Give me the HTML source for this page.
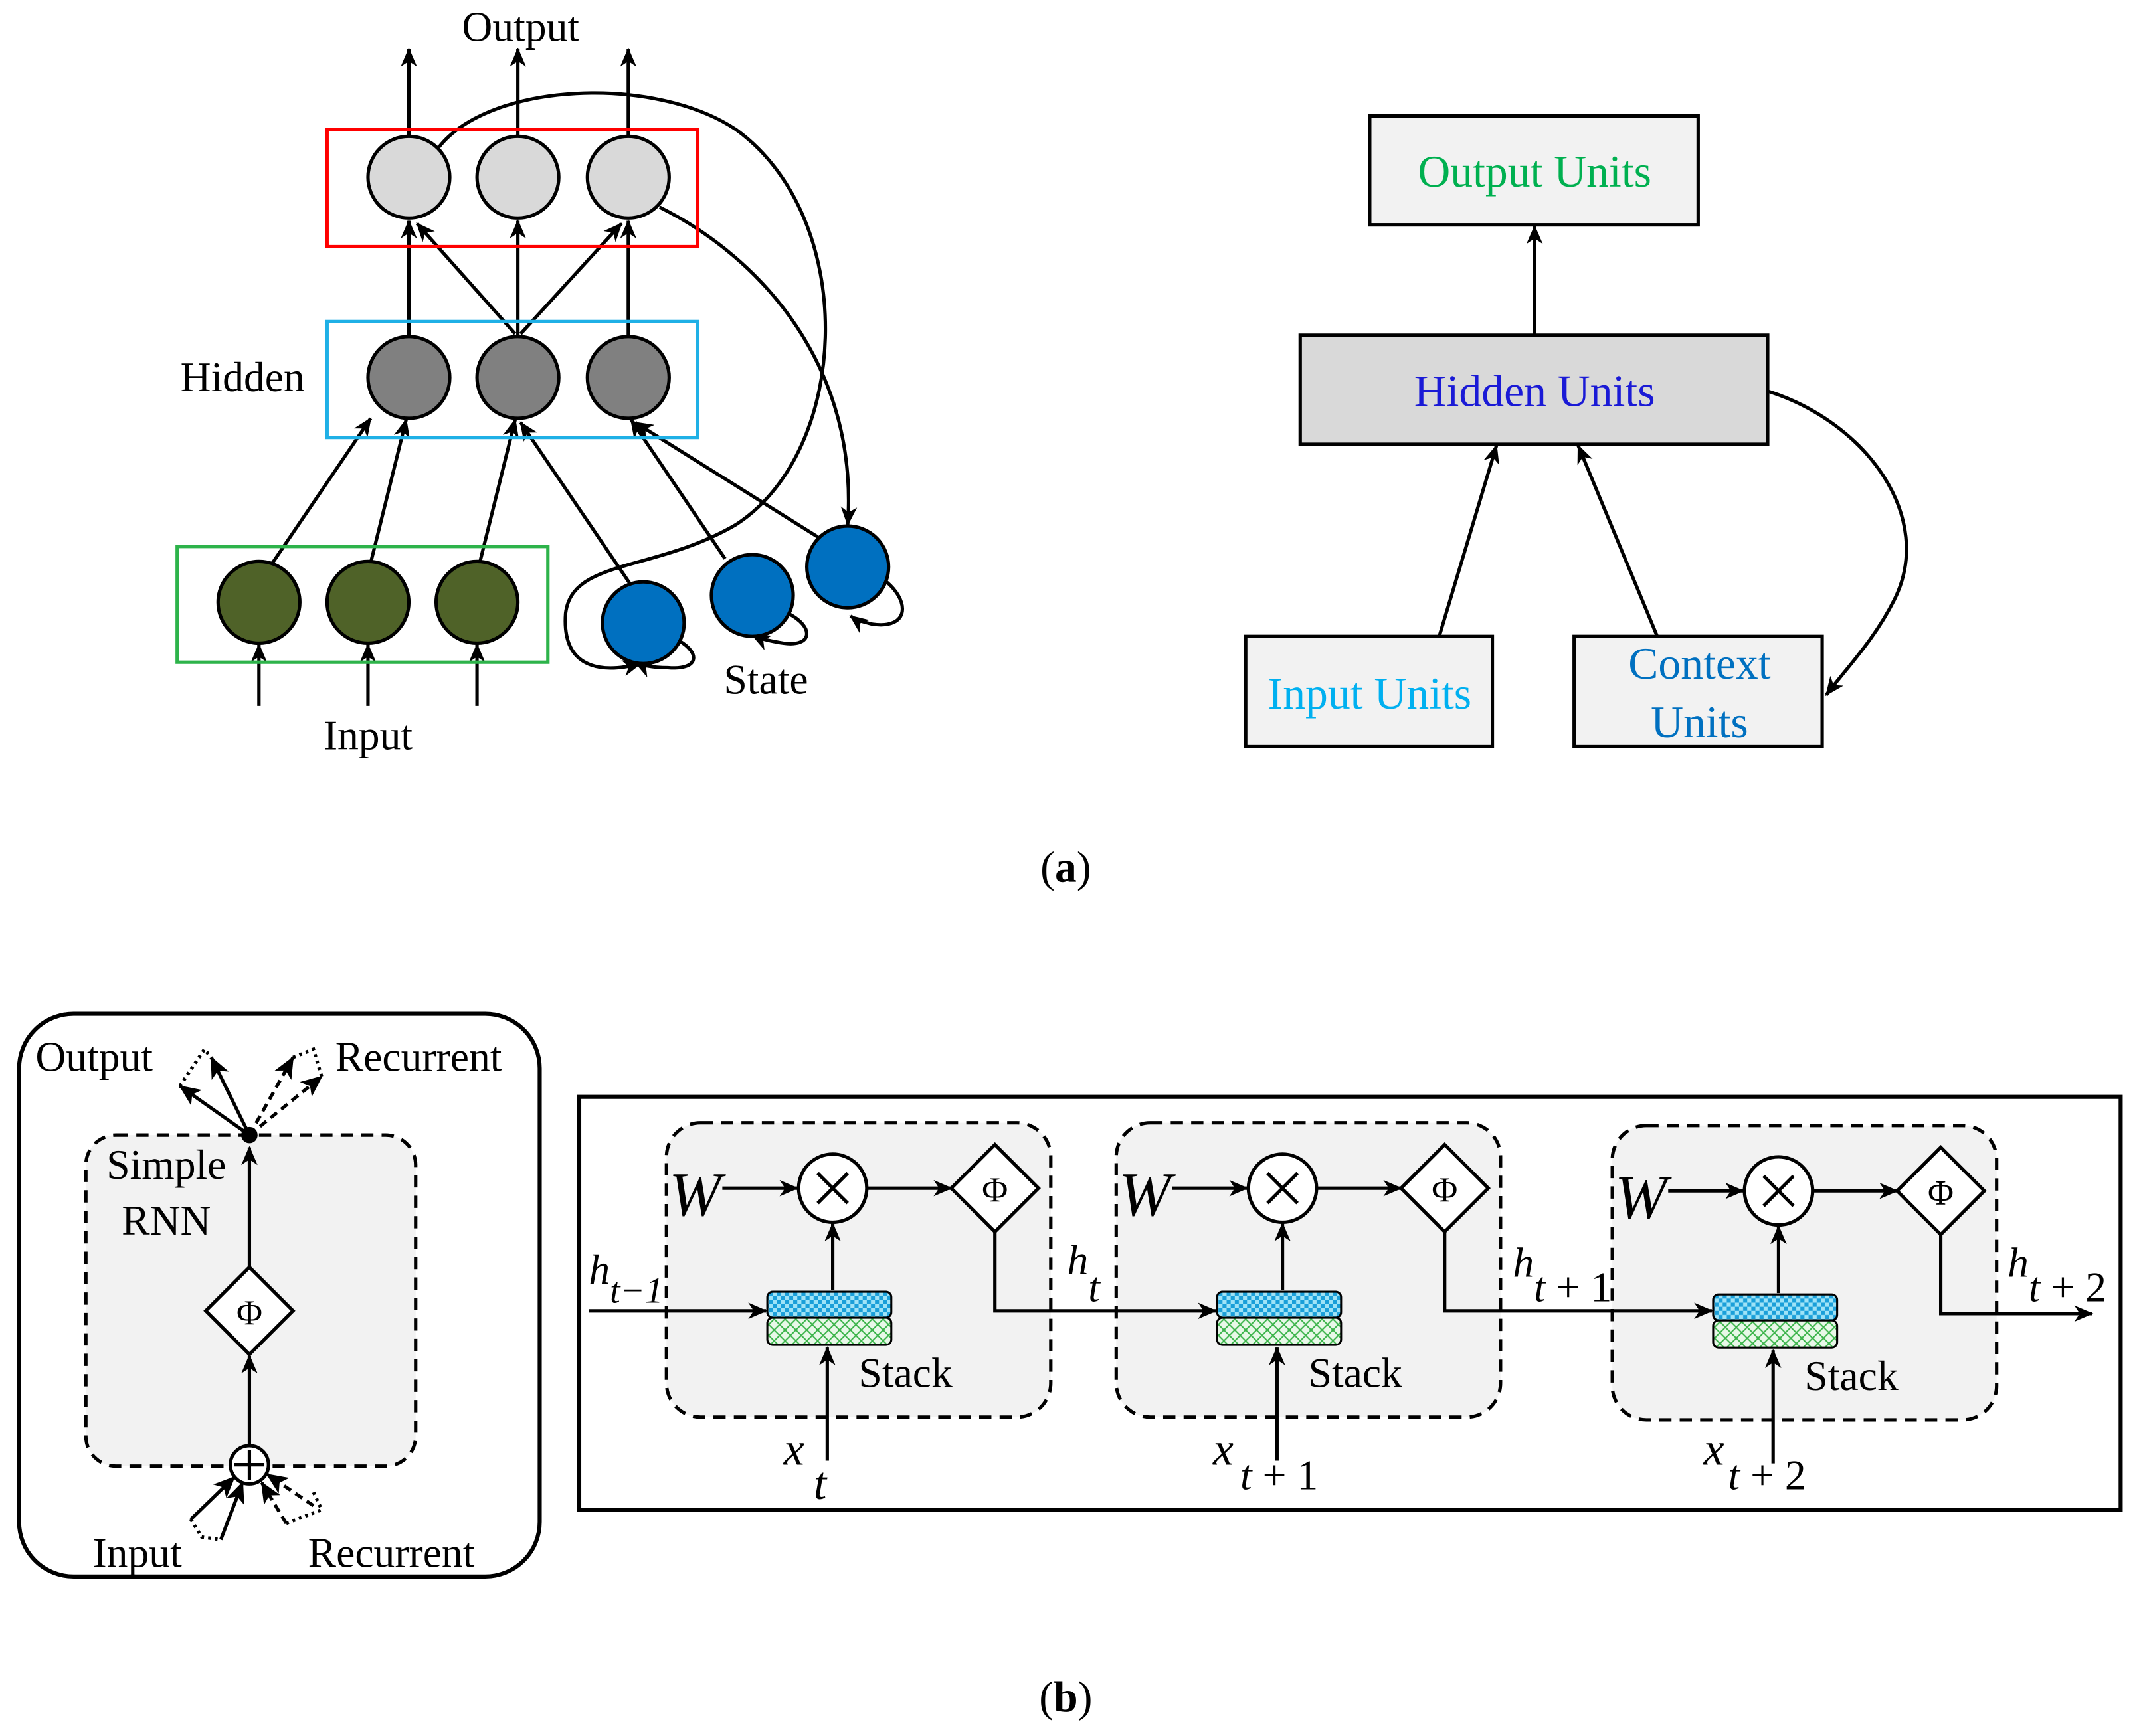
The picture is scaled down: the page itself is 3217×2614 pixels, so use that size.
<!DOCTYPE html>
<html><head><meta charset="utf-8"><style>
html,body{margin:0;padding:0;background:#fff;}
svg{display:block;}
text{font-family:"Liberation Serif",serif;}
</style></head><body>
<svg width="3217" height="2614" viewBox="0 0 1568 1274" xmlns="http://www.w3.org/2000/svg">
<defs>
<marker id="ah" markerWidth="14" markerHeight="12" refX="13" refY="6" orient="auto" markerUnits="userSpaceOnUse" viewBox="0 0 14 12">
<path d="M0,0 L14,6 L0,12 L4,6 z" fill="#000"/></marker>
<marker id="ahs" markerWidth="16" markerHeight="14" refX="15" refY="7" orient="auto" markerUnits="userSpaceOnUse" viewBox="0 0 16 14">
<path d="M0,0 L16,7 L0,14 L4,7 z" fill="#000"/></marker>
<pattern id="chk" width="6" height="6" patternUnits="userSpaceOnUse">
<rect width="6" height="6" fill="#9fe3f7"/><rect width="3" height="3" fill="#1a9fd9"/><rect x="3" y="3" width="3" height="3" fill="#1a9fd9"/></pattern>
<pattern id="xh" width="8" height="8" patternUnits="userSpaceOnUse">
<rect width="8" height="8" fill="#e8f8e8"/><path d="M0,0 L8,8 M8,0 L0,8" stroke="#3cb44b" stroke-width="1"/></pattern>
</defs>

<!-- (a) left -->
<g stroke="#000" stroke-width="2.5" fill="none" marker-end="url(#ah)">
<line x1="300" y1="100" x2="300" y2="36"/>
<line x1="380" y1="100" x2="380" y2="36"/>
<line x1="461" y1="100" x2="461" y2="36"/>
<line x1="300" y1="247" x2="300" y2="162"/>
<line x1="380" y1="247" x2="380" y2="162"/>
<line x1="461" y1="247" x2="461" y2="162"/>
<line x1="378" y1="245" x2="306" y2="164"/>
<line x1="382" y1="245" x2="456" y2="164"/>
<line x1="200" y1="413" x2="272" y2="307"/>
<line x1="272" y1="413" x2="298" y2="308"/>
<line x1="352" y1="413" x2="378" y2="308"/>
<line x1="462" y1="428" x2="382" y2="310"/>
<line x1="532" y1="410" x2="463" y2="308"/>
<line x1="600" y1="394" x2="466" y2="310"/>
<line x1="190" y1="518" x2="190" y2="473"/>
<line x1="270" y1="518" x2="270" y2="473"/>
<line x1="350" y1="518" x2="350" y2="473"/>
<path d="M322,108 C360,60 480,55 540,95 C630,160 625,330 540,385 C480,420 420,410 415,450 C412,490 440,495 470,487"/>
<path d="M484,152 C560,190 630,270 622,385"/>
<path d="M498,470 C515,480 512,492 490,490 C478,490 470,488 466,486"/>
<path d="M578,450 C598,460 596,475 575,472 C562,470 556,468 552,466"/>
<path d="M648,425 C668,440 668,462 640,458 C632,456 628,455 624,452"/>
</g>
<rect x="240" y="95" width="272" height="86" fill="none" stroke="#ff0000" stroke-width="2.5"/>
<rect x="240" y="236" width="272" height="85" fill="none" stroke="#1fb0e6" stroke-width="2.5"/>
<rect x="130" y="401" width="272" height="85" fill="none" stroke="#2db34a" stroke-width="2.5"/>
<g stroke="#000" stroke-width="2.5">
<circle cx="300" cy="130" r="30" fill="#d9d9d9"/><circle cx="380" cy="130" r="30" fill="#d9d9d9"/><circle cx="461" cy="130" r="30" fill="#d9d9d9"/>
<circle cx="300" cy="277" r="30" fill="#808080"/><circle cx="380" cy="277" r="30" fill="#808080"/><circle cx="461" cy="277" r="30" fill="#808080"/>
<circle cx="190" cy="442" r="30" fill="#4f6228"/><circle cx="270" cy="442" r="30" fill="#4f6228"/><circle cx="350" cy="442" r="30" fill="#4f6228"/>
<circle cx="472" cy="457" r="30" fill="#0070c0"/><circle cx="552" cy="437" r="30" fill="#0070c0"/><circle cx="622" cy="416" r="30" fill="#0070c0"/>
</g>
<g font-size="31" fill="#000">
<text x="382" y="30" text-anchor="middle">Output</text>
<text x="178" y="287" text-anchor="middle">Hidden</text>
<text x="270" y="550" text-anchor="middle">Input</text>
<text x="562" y="509" text-anchor="middle">State</text>
</g>

<!-- (a) right -->
<g stroke="#000" stroke-width="2.5" fill="none" marker-end="url(#ah)">
<line x1="1126" y1="246" x2="1126" y2="166"/>
<line x1="1056" y1="467" x2="1098" y2="327"/>
<line x1="1216" y1="467" x2="1158" y2="327"/>
<path d="M1297,287 C1370,310 1420,380 1390,440 C1375,470 1355,490 1340,510"/>
</g>
<rect x="1005" y="85" width="241" height="80" fill="#f2f2f2" stroke="#000" stroke-width="2.5"/>
<rect x="954" y="246" width="343" height="80" fill="#d9d9d9" stroke="#000" stroke-width="2.5"/>
<rect x="914" y="467" width="181" height="81" fill="#f2f2f2" stroke="#000" stroke-width="2.5"/>
<rect x="1155" y="467" width="182" height="81" fill="#f2f2f2" stroke="#000" stroke-width="2.5"/>
<g font-size="33" text-anchor="middle">
<text x="1126" y="137" fill="#00b050">Output Units</text>
<text x="1126" y="298" fill="#1a1ad6">Hidden Units</text>
<text x="1005" y="520" fill="#00b0f0">Input Units</text>
<text x="1247" y="498" fill="#0070c0">Context</text>
<text x="1247" y="541" fill="#0070c0">Units</text>
</g>
<text x="782" y="647" font-size="32" text-anchor="middle">(<tspan font-weight="bold">a</tspan>)</text>

<!-- (b) left -->
<rect x="14" y="744" width="382" height="413" rx="40" fill="none" stroke="#000" stroke-width="3"/>
<rect x="63" y="833" width="242" height="243" rx="22" fill="#f2f2f2" stroke="#000" stroke-width="2.5" stroke-dasharray="9,6"/>
<g stroke="#000" stroke-width="2.5" fill="none">
<line x1="183" y1="1061" x2="183" y2="995" marker-end="url(#ah)"/>
<line x1="183" y1="930" x2="183" y2="842" marker-end="url(#ah)"/>
<polygon points="183,930 215,962 183,994 151,962" fill="#fff"/>
<line x1="183" y1="833" x2="132" y2="797" marker-end="url(#ahs)"/>
<line x1="183" y1="833" x2="155" y2="776" marker-end="url(#ahs)"/>
<line x1="183" y1="833" x2="215" y2="776" stroke-dasharray="6,4" marker-end="url(#ahs)"/>
<line x1="183" y1="833" x2="236" y2="790" stroke-dasharray="6,4" marker-end="url(#ahs)"/>
<path d="M132,797 L150,770 L158,780" stroke-dasharray="2,3"/>
<path d="M215,776 L230,770 L236,790" stroke-dasharray="2,3"/>
<line x1="140" y1="1115" x2="172" y2="1084" marker-end="url(#ahs)"/>
<line x1="162" y1="1130" x2="178" y2="1088" marker-end="url(#ahs)"/>
<line x1="210" y1="1118" x2="192" y2="1088" stroke-dasharray="6,4" marker-end="url(#ahs)"/>
<line x1="230" y1="1105" x2="196" y2="1082" stroke-dasharray="6,4" marker-end="url(#ahs)"/>
<path d="M140,1115 L148,1128 L162,1130" stroke-dasharray="2,3"/>
<path d="M210,1118 L236,1108 L230,1095" stroke-dasharray="2,3"/>
<circle cx="183" cy="1075" r="14" fill="#fff"/>
<line x1="172" y1="1075" x2="194" y2="1075"/><line x1="183" y1="1064" x2="183" y2="1086"/>
</g>
<circle cx="183" cy="833" r="6" fill="#000"/>
<text x="183" y="972" font-size="26" text-anchor="middle">Φ</text>
<g font-size="31">
<text x="26" y="786">Output</text>
<text x="246" y="786">Recurrent</text>
<text x="122" y="865" text-anchor="middle">Simple</text>
<text x="122" y="906" text-anchor="middle">RNN</text>
<text x="68" y="1150">Input</text>
<text x="226" y="1150">Recurrent</text>
</g>

<!-- (b) right -->
<rect x="425" y="805" width="1131" height="303" fill="none" stroke="#000" stroke-width="3"/>
<g id="cell">
<rect x="489" y="824" width="282" height="216" rx="25" fill="#f2f2f2" stroke="#000" stroke-width="2.5" stroke-dasharray="9,6"/>
<g stroke="#000" stroke-width="2.5" fill="none">
<line x1="530" y1="872" x2="585" y2="872" marker-end="url(#ah)"/>
<line x1="636" y1="872" x2="698" y2="872" marker-end="url(#ah)"/>
<line x1="611" y1="947" x2="611" y2="898" marker-end="url(#ah)"/>
<line x1="607" y1="1072" x2="607" y2="989" marker-end="url(#ah)"/>
<circle cx="611" cy="872" r="25" fill="#fff"/>
<line x1="600" y1="861" x2="622" y2="883"/><line x1="622" y1="861" x2="600" y2="883"/>
<polygon points="730,840 762,872 730,904 698,872" fill="#fff"/>
</g>
<rect x="563" y="948" width="91" height="19" rx="4" fill="url(#chk)" stroke="#000" stroke-width="1.5"/>
<rect x="563" y="967" width="91" height="20" rx="4" fill="url(#xh)" stroke="#000" stroke-width="1.5"/>
<text x="730" y="882" font-size="26" text-anchor="middle">Φ</text>
<text x="510" y="892" font-size="46" font-style="italic" text-anchor="middle">W</text>
<text x="630" y="1018" font-size="31">Stack</text>
</g>
<use href="#cell" transform="translate(330,0)"/>
<use href="#cell" transform="translate(694,2)"/>
<g stroke="#000" stroke-width="2.5" fill="none">
<line x1="432" y1="962" x2="562" y2="962" marker-end="url(#ah)"/>
<polyline points="730,904 730,962 892,962" marker-end="url(#ah)"/>
<polyline points="1060,904 1060,962 1256,962" marker-end="url(#ah)"/>
<polyline points="1424,906 1424,964 1535,964" marker-end="url(#ah)"/>
</g>
<g font-size="31" font-style="italic">
<text x="432" y="942">h<tspan font-size="27" dy="14">t−1</tspan></text>
<text x="783" y="935">h<tspan dy="20">t</tspan></text>
<text x="1110" y="937">h<tspan dy="18">t <tspan font-style="normal">+ 1</tspan></tspan></text>
<text x="1473" y="937">h<tspan dy="18">t <tspan font-style="normal">+ 2</tspan></tspan></text>
<text x="575" y="1075" font-size="34">x</text><text x="597" y="1100" font-size="34">t</text>
<text x="890" y="1075" font-size="34">x</text><text x="910" y="1093" font-size="31">t <tspan font-style="normal">+ 1</tspan></text>
<text x="1250" y="1075" font-size="34">x</text><text x="1268" y="1093" font-size="31">t <tspan font-style="normal">+ 2</tspan></text>
</g>
<text x="782" y="1256" font-size="32" text-anchor="middle">(<tspan font-weight="bold">b</tspan>)</text>
</svg>
</body></html>
